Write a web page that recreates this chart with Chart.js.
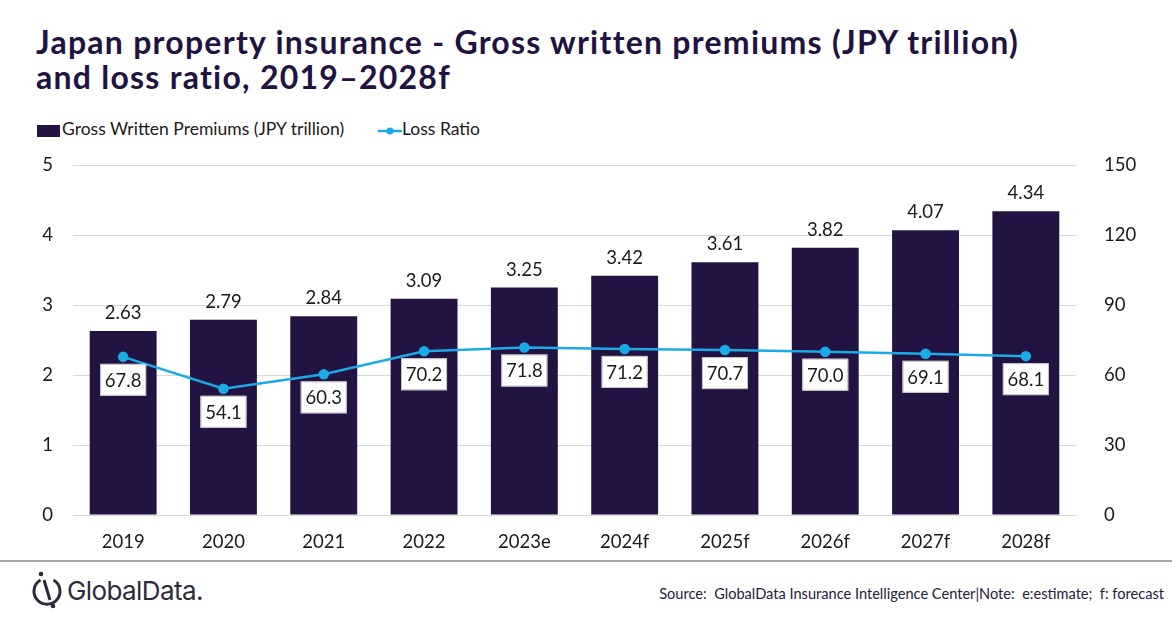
<!DOCTYPE html>
<html>
<head>
<meta charset="utf-8">
<script src="https://cdn.jsdelivr.net/npm/chart.js@4.4.1/dist/chart.umd.min.js"></script>
<style>
  body { margin:0; background:#fff; font-family: Lato, "Open Sans", sans-serif; }
  #page { position:relative; width:1172px; height:628px; overflow:hidden; }
  #titolo { position:absolute; left:36px; top:24px; margin:0; font-size:32px; font-weight:700; color:#22123f; line-height:35px; letter-spacing:1.25px; white-space:nowrap; }
  #legenda { position:absolute; left:37px; top:118px; font-size:17.5px; color:#1a1a1a; }
  .voce { position:absolute; white-space:nowrap; top:0; }
  .box { display:inline-block; width:23px; height:12px; background:#231342; vertical-align:middle; margin-right:2px; }
  #chart-wrap { position:absolute; left:0; top:134px; width:1172px; height:426px; }
  #sep { position:absolute; left:0; top:560px; width:1172px; height:2px; background:#a6a6a6; }
  #logo { position:absolute; left:31px; top:571px; display:flex; align-items:center; }
  #logo span { font-family: Inter, Roboto, sans-serif; font-size:26px; color:#2d2a3a; margin-left:4px; letter-spacing:-0.6px; }
  #fonte { position:absolute; right:8px; top:585px; font-size:14.6px; color:#262040; white-space:nowrap; }
</style>
</head>
<body>
<div id="page">
  <h1 id="titolo">Japan property insurance - Gross written premiums (JPY trillion)<br>and loss ratio, 2019–2028f</h1>
  <div id="legenda">
    <div class="voce" style="left:0"><span class="box"></span>Gross Written Premiums (JPY trillion)</div>
    <div class="voce" style="left:341px">
      <svg width="24" height="12" style="vertical-align:middle"><line x1="0" y1="6" x2="24" y2="6" stroke="#1aabe6" stroke-width="2.5"/><circle cx="12" cy="6" r="3.5" fill="#1aabe6"/></svg>Loss Ratio
    </div>
  </div>
  <div id="chart-wrap"><canvas id="grafico"></canvas></div>
  <div id="sep"></div>
  <div id="logo">
    <svg width="32" height="38" viewBox="0 0 32 38">
      <path d="M9.5 9 A13 13 0 1 0 22.5 9" fill="none" stroke="#2d2a3a" stroke-width="3"/>
      <line x1="13" y1="9" x2="19" y2="29" stroke="#2d2a3a" stroke-width="3"/>
      <circle cx="10" cy="3" r="2.3" fill="#2d2a3a"/>
      <circle cx="22" cy="35" r="2.3" fill="#2d2a3a"/>
    </svg>
    <span>GlobalData.</span>
  </div>
  <div id="fonte">Source:&nbsp; GlobalData Insurance Intelligence Center|Note:&nbsp; e:estimate;&nbsp; f: forecast</div>
</div>
<script>
// dati
const anni = ['2019','2020','2021','2022','2023e','2024f','2025f','2026f','2027f','2028f'];
const premi = [2.63, 2.79, 2.84, 3.09, 3.25, 3.42, 3.61, 3.82, 4.07, 4.34]; // JPY trillion
const lossRatio = [67.8, 54.1, 60.3, 70.2, 71.8, 71.2, 70.7, 70.0, 69.1, 68.1];
const tickSinistra = [0, 1, 2, 3, 4, 5];
const tickDestra = [0, 30, 60, 90, 120, 150];

const coloreBarre = '#231342';
const coloreLinea = '#1aabe6';
const fontBase = 'Lato, "Open Sans", sans-serif';

// etichette dei valori (niente plugin datalabels, le disegno a mano)
const etichette = {
  id: 'etichette',
  afterDraw(chart) {
    const ctx = chart.ctx;
    ctx.save();
    ctx.font = '18.5px ' + fontBase;
    ctx.textAlign = 'center';
    ctx.textBaseline = 'middle';
    // valori sopra le barre
    const metaBarre = chart.getDatasetMeta(1);
    metaBarre.data.forEach((bar, i) => {
      ctx.fillStyle = '#1a1a1a';
      ctx.fillText(premi[i].toFixed(2), bar.x, bar.y - 18);
    });
    // valori della linea dentro box bianchi
    const metaLinea = chart.getDatasetMeta(0);
    metaLinea.data.forEach((pt, i) => {
      const testo = lossRatio[i].toFixed(1);
      const w = 46, h = 32;
      const cy = pt.y + 23;
      ctx.fillStyle = '#ffffff';
      ctx.fillRect(pt.x - w / 2, cy - h / 2, w, h);
      ctx.strokeStyle = '#bfbfbf';
      ctx.lineWidth = 1;
      ctx.strokeRect(pt.x - w / 2 + 0.5, cy - h / 2 + 0.5, w - 1, h - 1);
      ctx.fillStyle = '#1a1a1a';
      ctx.fillText(testo, pt.x, cy + 1);
    });
    ctx.restore();
  }
};

const ctx = document.getElementById('grafico');
const grafico = new Chart(ctx, {
  type: 'bar',
  data: {
    labels: anni,
    datasets: [
      {
        type: 'line',
        label: 'Loss Ratio',
        data: lossRatio,
        yAxisID: 'y1',
        borderColor: coloreLinea,
        backgroundColor: coloreLinea,
        borderWidth: 2.5,
        pointRadius: 4,
        pointHoverRadius: 4,
        tension: 0,
        order: 0
      },
      {
        type: 'bar',
        label: 'Gross Written Premiums (JPY trillion)',
        data: premi,
        yAxisID: 'y',
        backgroundColor: coloreBarre,
        barPercentage: 0.667,
        categoryPercentage: 1,
        order: 1
      }
    ]
  },
  options: {
    responsive: true,
    maintainAspectRatio: false,
    animation: false,
    layout: { padding: { top: 14, left: 0, right: 0, bottom: 0 } },
    plugins: {
      legend: { display: false },
      tooltip: { enabled: false }
    },
    scales: {
      x: {
        grid: { display: false },
        border: { display: false },
        ticks: { color: '#1a1a1a', font: { size: 18.5, family: fontBase }, padding: 8 },
        afterFit(scale) { scale.height = 45; }
      },
      y: {
        position: 'left',
        min: 0, max: 5,
        afterBuildTicks(scale) { scale.ticks = tickSinistra.map(v => ({ value: v })); },
        grid: { color: '#d9d9d9', lineWidth: 1, drawTicks: false },
        border: { display: false },
        ticks: { color: '#1a1a1a', font: { size: 18.5, family: fontBase }, padding: 20 },
        afterFit(scale) { scale.width = 73; }
      },
      y1: {
        position: 'right',
        min: 0, max: 150,
        afterBuildTicks(scale) { scale.ticks = tickDestra.map(v => ({ value: v })); },
        grid: { display: false },
        border: { display: false },
        ticks: { color: '#1a1a1a', font: { size: 18.5, family: fontBase }, padding: 20 },
        afterFit(scale) { scale.width = 96; }
      }
    }
  },
  plugins: [etichette]
});
</script>
</body>
</html>
